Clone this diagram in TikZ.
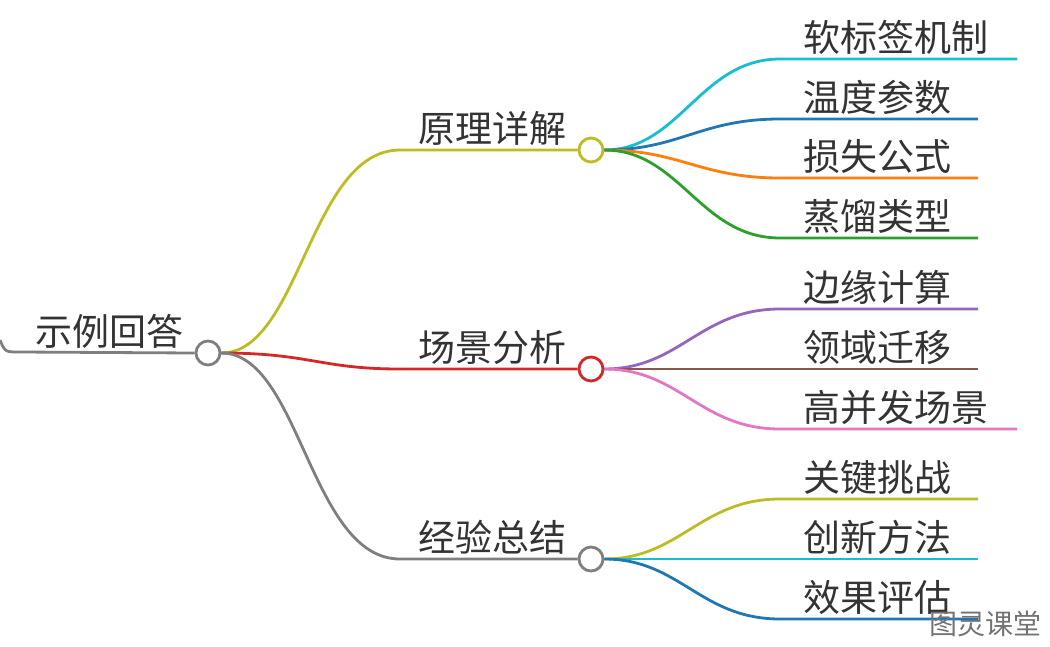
\documentclass[tikz,border=0pt]{standalone}
\usepackage{fontspec}
\setmainfont{Noto Sans CJK SC}
\usetikzlibrary{positioning}
\definecolor{tOlive}{HTML}{BCBD22}
\definecolor{tRed}{HTML}{D62728}
\definecolor{tGray}{HTML}{7F7F7F}
\definecolor{tCyan}{HTML}{17BECF}
\definecolor{tBlue}{HTML}{1F77B4}
\definecolor{tOrange}{HTML}{FF7F0E}
\definecolor{tGreen}{HTML}{2CA02C}
\definecolor{tPurple}{HTML}{9467BD}
\definecolor{tBrown}{HTML}{8C564B}
\definecolor{tPink}{HTML}{E377C2}
\begin{document}
\begin{tikzpicture}[x=1pt, y=-1pt,
        hub/.style={circle, draw, line width=2.8pt, fill=white, minimum size=24pt, inner sep=0pt},
        label/.style={anchor=south west, inner sep=0pt, font=\fontsize{37}{40}\selectfont, text=black!80},
        edge/.style={line width=2.8pt}
    ]
        \useasboundingbox (0,0) rectangle (1050,646);

        % Root
        \node[hub, draw=tGray] (root) at (208,353) {};
        \node[label] (rootT) at (35,349) {示例回答};
        \coordinate (rootS) at (0,340);
        \draw[edge, tGray] (rootS) .. controls (5,352) .. (20,352) -- (root.west);

        % Branches
        \node[hub, draw=tOlive] (theory) at (591,150) {};
        \node[hub, draw=tRed] (scene) at (591,369) {};
        \node[hub, draw=tGray] (sum) at (591,559) {};
        \node[label] (theoryT) at (418,146) {原理详解};
        \node[label] (sceneT) at (418,365) {场景分析};
        \node[label] (sumT) at (418,555) {经验总结};

        \draw[edge, tOlive] (root.east) .. controls (300,353) and (310,150) .. (400,150) -- (theory.west);
        \draw[edge, tRed] (root.east) .. controls (310,353) and (320,369) .. (400,369) -- (scene.west);
        \draw[edge, tGray] (root.east) .. controls (300,353) and (310,559) .. (400,559) -- (sum.west);

        % Leaves
        \foreach \hubname/\hy/\y/\xe/\col/\txt in {
            theory/150/59/1017/tCyan/软标签机制,
            theory/150/119/978/tBlue/温度参数,
            theory/150/178/978/tOrange/损失公式,
            theory/150/238/978/tGreen/蒸馏类型,
            scene/369/309/978/tPurple/边缘计算,
            scene/369/369/978/tBrown/领域迁移,
            scene/369/429/1017/tPink/高并发场景,
            sum/559/499/978/tOlive/关键挑战,
            sum/559/559/978/tCyan/创新方法,
            sum/559/619/978/tBlue/效果评估} {
            \coordinate (end\y) at (\xe,\y);
            \node[label] (leaf\y) at (803,\y-4) {\txt};
            \draw[edge, \col] (\hubname.east) .. controls (680,\hy) and (700,\y) .. (780,\y) -- (end\y);
        }

        % Watermark
        \node[font=\fontsize{28}{30}\selectfont, text=black!55, anchor=east] (mark) at (1045,624) {图灵课堂};
    \end{tikzpicture}
\end{document}
